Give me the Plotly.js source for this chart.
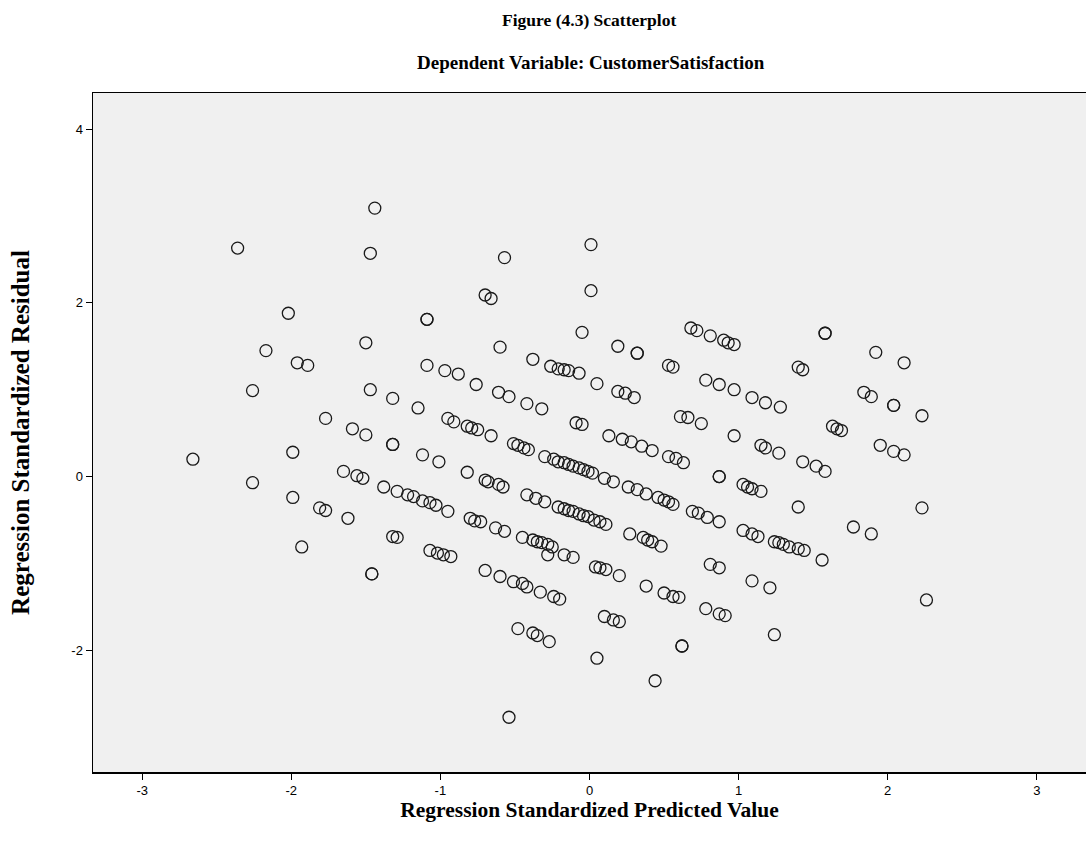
<!DOCTYPE html>
<html>
<head>
<meta charset="utf-8">
<script src="https://cdn.plot.ly/plotly-3.0.1.min.js"></script>
<style>html,body{margin:0;padding:0;background:#fff;}#chart{width:1086px;height:847px;}</style>
</head>
<body>
<div id="chart"></div>
<script>
// Regression standardized predicted values (x) and residuals (y)
const predicted = [
 -1.44,-2.36,-1.47,-2.02,-2.17,-1.50,-1.96,-1.89,
 0.01,-0.57,-0.70,-0.66,-1.09,-1.09,0.01,-0.05,-0.60,0.19,-1.09,-0.97,-0.88,-0.38,-0.26,-0.21,-0.17,-0.14,-0.07,0.32,0.32,
 0.68,0.72,0.81,0.90,0.93,0.97,1.58,1.58,0.53,0.56,1.40,1.43,
 1.92,2.11,
 -2.26,-1.47,-1.32,-1.77,-1.59,-1.50,-1.32,-1.32,-2.66,-1.99,-1.65,-1.56,-1.52,-1.38,-1.29,-2.26,-1.99,-1.81,-1.77,-1.62,-1.32,-1.29,-1.93,
 -0.76,-0.61,-0.54,-0.42,-0.32,0.05,0.19,0.24,0.30,-1.15,-0.95,-0.91,-0.82,-0.79,-0.75,-0.66,-0.51,-0.48,-0.44,-0.41,-0.09,-0.05,0.13,0.22,0.28,0.35,0.42,
 -1.12,-1.01,-0.30,-0.24,-0.21,-0.17,-0.14,-0.11,-0.07,-0.04,-0.01,0.02,
 0.10,0.16,0.26,0.32,0.38,-0.82,-0.70,-0.68,-0.61,-0.58,
 -1.22,-1.18,-1.12,-1.07,-1.03,-0.95,-0.42,-0.36,-0.30,
 -0.21,-0.17,-0.14,-0.11,-0.07,-0.04,-0.01,0.03,0.07,0.11,0.27,
 -0.80,-0.77,-0.73,-0.63,-0.57,-0.45,-0.38,-0.35,-0.32,-0.28,-0.25,
 -0.28,-0.17,-0.11,-1.07,-1.02,-0.98,-0.93,
 0.04,0.07,0.11,0.20,-0.70,-0.60,-0.51,-0.45,-0.42,-0.33,-0.24,-0.20,
 0.10,0.16,0.20,-0.48,-0.38,-0.35,-0.27,0.05,-0.54,
 -1.46,-1.46,
 0.81,0.87,0.38,0.50,0.56,0.60,1.09,1.21,0.78,0.87,0.91,1.24,0.62,0.62,0.44,
 0.78,0.87,0.97,1.09,1.18,1.28,0.61,0.66,0.75,1.63,1.66,1.69,0.97,
 0.53,0.58,0.63,1.15,1.18,1.27,1.43,1.52,1.58,0.87,0.87,
 0.46,0.50,0.53,0.56,1.03,1.06,1.09,1.15,0.69,0.73,0.79,0.87,1.40,1.77,
 0.36,0.39,0.42,0.48,1.03,1.09,1.13,1.24,1.27,1.30,1.34,1.40,1.44,1.56,
 1.84,1.89,2.04,2.04,2.23,1.95,2.04,2.11,2.23,1.89,2.26
];
const residual = [
 3.09,2.63,2.57,1.88,1.45,1.54,1.31,1.28,
 2.67,2.52,2.09,2.05,1.81,1.81,2.14,1.66,1.49,1.50,1.28,1.22,1.18,1.35,1.27,1.24,1.23,1.22,1.19,1.42,1.42,
 1.71,1.68,1.62,1.57,1.54,1.52,1.65,1.65,1.28,1.26,1.26,1.23,
 1.43,1.31,
 0.99,1.00,0.90,0.67,0.55,0.48,0.37,0.37,0.20,0.28,0.06,0.01,-0.02,-0.12,-0.17,-0.07,-0.24,-0.36,-0.39,-0.48,-0.69,-0.70,-0.81,
 1.06,0.97,0.92,0.84,0.78,1.07,0.98,0.96,0.91,0.79,0.67,0.63,0.58,0.56,0.54,0.47,0.38,0.36,0.33,0.31,0.62,0.60,0.47,0.43,0.40,0.35,0.30,
 0.25,0.17,0.23,0.20,0.17,0.16,0.14,0.12,0.10,0.08,0.06,0.04,
 -0.02,-0.06,-0.12,-0.15,-0.20,0.05,-0.04,-0.06,-0.09,-0.12,
 -0.21,-0.23,-0.28,-0.30,-0.33,-0.40,-0.21,-0.25,-0.29,
 -0.35,-0.37,-0.39,-0.40,-0.43,-0.45,-0.46,-0.50,-0.52,-0.55,-0.66,
 -0.48,-0.51,-0.52,-0.59,-0.63,-0.70,-0.73,-0.75,-0.76,-0.78,-0.81,
 -0.90,-0.90,-0.93,-0.85,-0.88,-0.90,-0.92,
 -1.04,-1.05,-1.07,-1.14,-1.08,-1.15,-1.21,-1.23,-1.27,-1.33,-1.38,-1.41,
 -1.61,-1.65,-1.67,-1.75,-1.80,-1.83,-1.90,-2.09,-2.77,
 -1.12,-1.12,
 -1.01,-1.05,-1.26,-1.34,-1.38,-1.39,-1.20,-1.28,-1.52,-1.58,-1.60,-1.82,-1.95,-1.95,-2.35,
 1.11,1.06,1.00,0.91,0.85,0.80,0.69,0.68,0.61,0.58,0.55,0.53,0.47,
 0.23,0.21,0.16,0.36,0.33,0.27,0.17,0.12,0.06,0.00,0.00,
 -0.24,-0.27,-0.29,-0.32,-0.09,-0.12,-0.14,-0.17,-0.40,-0.42,-0.47,-0.52,-0.35,-0.58,
 -0.70,-0.73,-0.75,-0.80,-0.62,-0.66,-0.69,-0.75,-0.76,-0.78,-0.81,-0.83,-0.85,-0.96,
 0.97,0.92,0.82,0.82,0.70,0.36,0.29,0.25,-0.36,-0.66,-1.42
];
const xTicks = [-3,-2,-1,0,1,2,3];
const yTicks = [-2,0,2,4];

const serif = '"Liberation Serif", "Times New Roman", serif';
const sans = '"Liberation Sans", Arial, sans-serif';

const trace = {
  type: 'scatter',
  mode: 'markers',
  x: predicted,
  y: residual,
  marker: {
    symbol: 'circle-open',
    size: 12,
    color: '#1a1a1a',
    line: {width: 1.3, color: '#1a1a1a'}
  },
  hoverinfo: 'x+y',
  showlegend: false
};

const layout = {
  width: 1086,
  height: 847,
  paper_bgcolor: '#ffffff',
  plot_bgcolor: '#f0f0f0',
  margin: {l: 93, r: 0, t: 93, b: 75},
  title: {
    text: '<b>Figure (4.3) Scatterplot</b>',
    font: {family: serif, size: 17.5, color: '#000'},
    x: 0.5425, xanchor: 'center',
    y: 1 - 20/847, yanchor: 'middle', yref: 'container'
  },
  annotations: [{
    text: '<b>Dependent Variable: CustomerSatisfaction</b>',
    xref: 'paper', yref: 'paper',
    x: (591-93)/993, xanchor: 'center',
    y: 1 + (93-63)/679, yanchor: 'middle',
    showarrow: false,
    font: {family: serif, size: 19, color: '#000'}
  }],
  xaxis: {
    range: [-3.33, 3.33],
    tickvals: xTicks,
    ticktext: xTicks.map(String),
    ticks: 'outside', ticklen: 6, tickwidth: 1, tickcolor: '#000',
    showgrid: false, zeroline: false,
    showline: true, linecolor: '#000', linewidth: 1.5, mirror: true,
    tickfont: {family: sans, size: 13, color: '#000'},
    title: {text: '<b>Regression Standardized Predicted Value</b>', font: {family: serif, size: 21.5, color: '#000'}, standoff: 1}
  },
  yaxis: {
    range: [-3.40, 4.415],
    tickvals: yTicks,
    ticktext: yTicks.map(String),
    ticks: 'outside', ticklen: 6, tickwidth: 1, tickcolor: '#000',
    showgrid: false, zeroline: false,
    showline: true, linecolor: '#000', linewidth: 1.5, mirror: true,
    tickfont: {family: sans, size: 13, color: '#000'},
    title: {text: '<b>Regression Standardized Residual</b>', font: {family: serif, size: 25, color: '#000'}, standoff: 34}
  }
};

Plotly.newPlot('chart', [trace], layout, {displayModeBar: false, staticPlot: true});
</script>
</body>
</html>
